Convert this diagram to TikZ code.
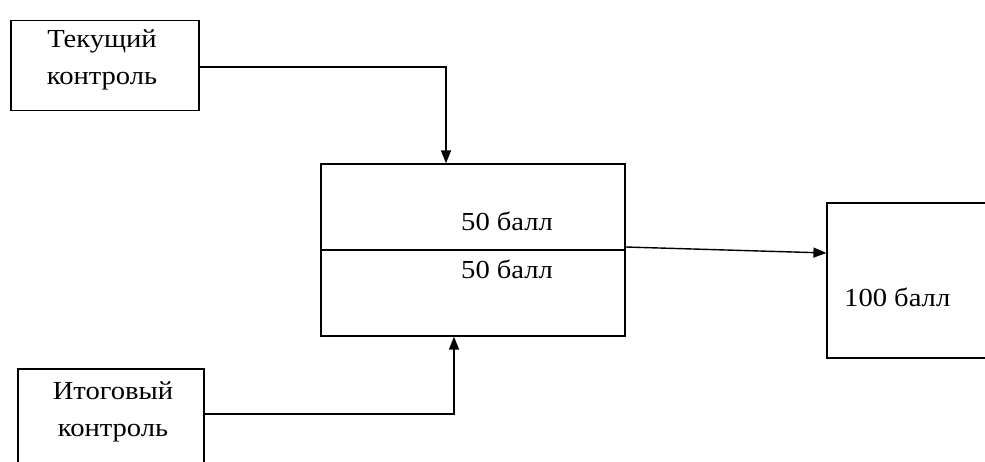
\documentclass[tikz,border=0pt]{standalone}
\usepackage{fontspec}
\setmainfont[FakeStretch=1.1]{Liberation Serif}
\usetikzlibrary{arrows.meta}
\begin{document}
\begin{tikzpicture}[x=1pt,y=-1pt,
  box/.style={draw,line width=1.2pt,rectangle,inner sep=0pt},
  txt/.style={font=\fontsize{26}{37}\selectfont,inner sep=0pt},
  conn/.style={line width=1.4pt,-{Triangle[length=13pt,width=10pt]}}]
\useasboundingbox (0,0) rectangle (985,462);
\clip (0,0) rectangle (985,462);
\fill[white] (0,0) rectangle (985,462);
% boxes
\node[box,minimum width=188pt,minimum height=90pt] (cur) at (105,65.5) {};
\node[box,minimum width=304pt,minimum height=172pt] (mid) at (473,250) {};
\node[box,minimum width=174pt,minimum height=155pt] (res) at (914,280.5) {};
\node[box,minimum width=186pt,minimum height=111pt] (fin) at (111,424.5) {};
% texts
\node[txt,align=center,anchor=base] (curt) at (102,85) {Текущий\\контроль};
\node[txt,anchor=base west] (m1) at (461,231) {50 балл};
\node[txt,anchor=base west] (m2) at (461,279) {50 балл};
\node[txt,anchor=base west] (rt) at (844,307) {100 балл};
\node[txt,align=center,anchor=base] (fint) at (113,436) {Итоговый\\контроль};
% divider
\draw[line width=1.2pt] (mid.west) -- (mid.east);
% connectors
\draw[conn] ([yshift=-1.5pt]cur.east) -| ([xshift=-27pt]mid.north);
\draw[conn] ([yshift=10.5pt]fin.east) -| ([xshift=-19pt]mid.south);
\draw[conn] ([yshift=3pt]mid.east) -- ([yshift=27.5pt]res.west);
\end{tikzpicture}
\end{document}
